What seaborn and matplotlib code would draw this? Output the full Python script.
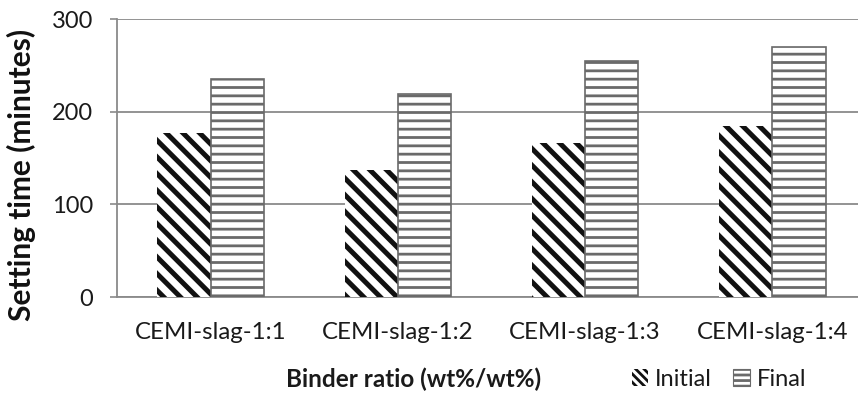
import matplotlib
matplotlib.use("Agg")
import matplotlib.pyplot as plt
import seaborn as sns
import pandas as pd
from matplotlib.patches import Patch

categories = ["CEMI-slag-1:1", "CEMI-slag-1:2", "CEMI-slag-1:3", "CEMI-slag-1:4"]
initial = [177, 137, 166, 184]
final = [235, 219, 255, 270]
series = ["Initial", "Final"]
yticks = [0, 100, 200, 300]

df = pd.DataFrame({
    "ratio": categories * 2,
    "time": initial + final,
    "kind": [series[0]] * len(categories) + [series[1]] * len(categories),
})

sns.set_style("white")
plt.rcParams["font.family"] = ["Lato", "DejaVu Sans"]

fig = plt.figure(figsize=(8.58, 3.97), dpi=100)
ax = fig.add_axes([117 / 858, 100 / 397, (866 - 117) / 858, 278 / 397])

sns.barplot(data=df, x="ratio", y="time", hue="kind", order=categories,
            hue_order=series, width=0.57, palette=["white", "white"],
            legend=False, ax=ax, zorder=3)

grid_c = "#8a8a8a"
text_c = "#1a1a1a"
styles = {
    "Initial": dict(hatch="\\\\", edgecolor="#111111", linewidth=0, hlw=3.6),
    "Final": dict(hatch="--", edgecolor="#6a6a6a", linewidth=1.2, hlw=2.0),
}
for cont, name in zip(ax.containers, series):
    st = styles[name]
    for bar in cont:
        bar.set_facecolor("white")
        bar.set_hatch(st["hatch"])
        bar.set_edgecolor(st["edgecolor"])
        bar.set_linewidth(st["linewidth"])
        if hasattr(bar, "set_hatch_linewidth"):
            bar.set_hatch_linewidth(st["hlw"])

ax.set_ylim(0, 300)
ax.set_xlim(-0.5, 3.5)
ax.set_yticks(yticks)
ax.set_yticklabels([str(v) for v in yticks], fontsize=17, color=text_c)
ax.tick_params(axis="y", length=5, width=1.2, color=grid_c, pad=12, left=True)
ax.tick_params(axis="x", length=0, pad=18, labelsize=17.3, labelcolor=text_c)
ax.yaxis.grid(True, color=grid_c, linewidth=1.3, zorder=0)
ax.set_axisbelow(True)
for side in ["top", "right"]:
    ax.spines[side].set_visible(False)
for side in ["left", "bottom"]:
    ax.spines[side].set_color(grid_c)
    ax.spines[side].set_linewidth(1.3)

ax.set_xlabel("Binder ratio (wt%/wt%)", fontsize=17.5, fontweight="bold", color=text_c)
ax.xaxis.set_label_coords((414 - 117) / (866 - 117), -0.255)
ax.set_ylabel("Setting time (minutes)", fontsize=21.5, fontweight="bold", color="#111111")
ax.yaxis.set_label_coords(-0.108, 0.44)

handles = [
    Patch(facecolor="white", edgecolor="#111111", linewidth=0, hatch="\\\\\\\\"),
    Patch(facecolor="white", edgecolor="#6a6a6a", linewidth=0.8, hatch="---"),
]
leg = fig.legend(handles, series, loc="center", bbox_to_anchor=(719 / 858, 1 - 379 / 397),
                 ncol=2, frameon=False, fontsize=17, handlelength=0.7, handleheight=0.7,
                 handletextpad=0.3, columnspacing=0.9, labelcolor=text_c)
for h in leg.get_patches():
    if hasattr(h, "set_hatch_linewidth"):
        h.set_hatch_linewidth(2.0)

fig.savefig("out.png", dpi=100)
